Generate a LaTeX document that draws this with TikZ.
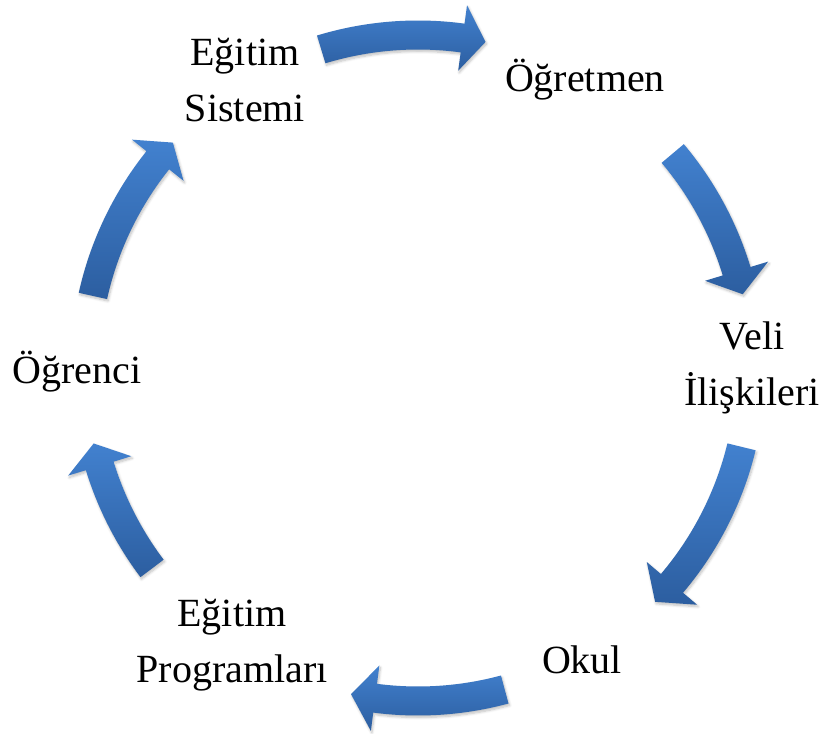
\documentclass[tikz,border=0pt]{standalone}
\usepackage{fontspec}
\setmainfont{Liberation Serif}
\usepackage{tikz}
\usetikzlibrary{shadows.blur}

\definecolor{arrowtop}{RGB}{66,129,207}
\definecolor{arrowbot}{RGB}{44,94,160}

% one block arrow on the cycle: tail angle, head base angle, tip angle
\newcommand{\cyclearrow}[3]{%
    \path[cyclefill] (#1:347.5) arc[start angle=#1, end angle=#2, radius=347.5]
        -- (#2:366) -- (#3:333) -- (#2:300) -- (#2:318.5)
        arc[start angle=#2, end angle=#1, radius=318.5] -- cycle;}

\begin{document}
\begin{tikzpicture}[x=0.75pt, y=0.75pt,
    cyclefill/.style={top color=arrowtop, bottom color=arrowbot,
        blur shadow={shadow blur steps=6, shadow xshift=0.8pt, shadow yshift=-1.5pt, shadow opacity=25}},
    stage/.style={align=center, font=\fontsize{30}{42}\selectfont, inner sep=0pt}]
    \useasboundingbox (0, 0) rectangle (821, 733);
    \coordinate (hub) at (418, 365);
    \node[stage] (sistem) at (245, 653) {Eğitim\\Sistemi};
    \node[stage] (ogretmen) at (585, 653) {Öğretmen};
    \node[stage] (veli) at (752, 365) {Veli\\İlişkileri};
    \node[stage] (okul) at (582, 73) {Okul};
    \node[stage] (program) at (232, 88) {Eğitim\\Programları};
    \node[stage] (ogrenci) at (77, 361) {Öğrenci};
    \begin{scope}[shift={(hub)}]
        \cyclearrow{106.9}{82.3}{78.3}
        \cyclearrow{40.1}{16.9}{12.8}
        \cyclearrow{-13.7}{-40.3}{-44.6}
        \cyclearrow{-74.9}{-97.4}{-101.6}
        \cyclearrow{-143.0}{-162.9}{-166.9}
        \cyclearrow{167.5}{141.4}{137.4}
    \end{scope}
\end{tikzpicture}
\end{document}
